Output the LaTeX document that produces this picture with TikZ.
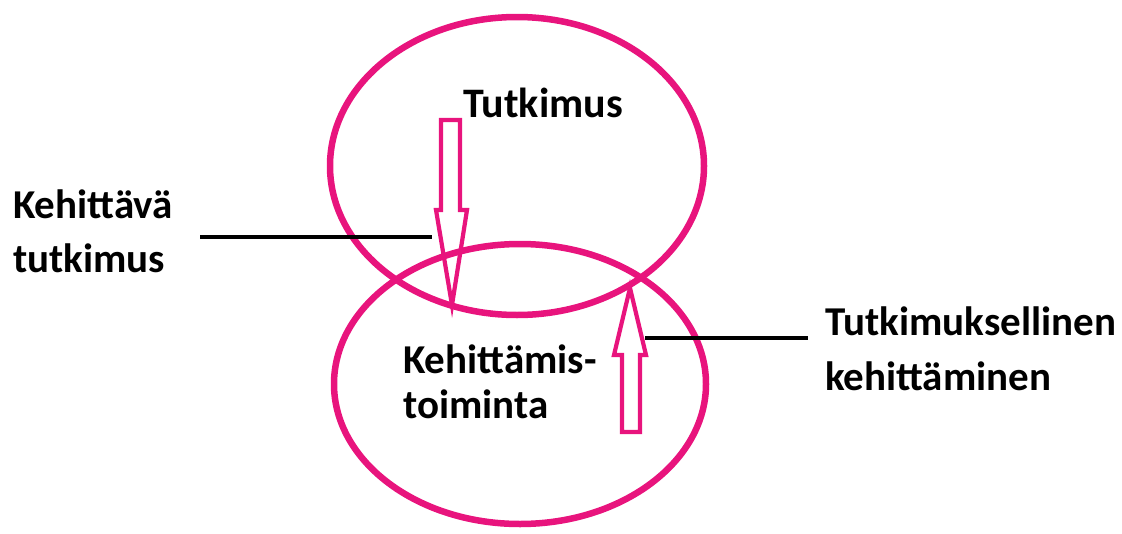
\documentclass[tikz,border=0pt]{standalone}
\usepackage{fontspec}
\setmainfont{Carlito}
\usetikzlibrary{shapes.geometric}
\definecolor{vpink}{RGB}{232,20,125}
\begin{document}
\begin{tikzpicture}[x=1pt,y=-1pt,
  ring/.style={draw=vpink,line width=6.5pt,ellipse,inner sep=0pt},
  hollowarrow/.style={draw=vpink,line width=4.2pt,line join=miter},
  leader/.style={draw=black,line width=4pt},
  lbl/.style={inner sep=0pt,anchor=base west,align=left,font=\fontsize{41}{54}\selectfont\bfseries}]
\useasboundingbox (0,0) rectangle (1122,533);
% ellipses
\node[ring,minimum width=374pt,minimum height=298pt] (tut) at (517,166) {};
\node[ring,minimum width=372pt,minimum height=280pt] (keh) at (520,384) {};
% arrows
\draw[hollowarrow] (441,120) -- (460,120) -- (460,210) -- (467,210) -- (452,305) -- (436,210) -- (441,210) -- cycle;
\draw[hollowarrow] (622,432) -- (640,432) -- (640,355) -- (646,355) -- (630,288) -- (614,355) -- (622,355) -- cycle;
% labels (base anchor = baseline of the last line)
\node[lbl,font=\fontsize{42}{54}\selectfont\bfseries] (t1) at (463,117) {Tutkimus};
\node[lbl] (t2) at (13,272) {Kehittävä\\tutkimus};
\node[lbl,font=\fontsize{41}{55}\selectfont\bfseries] (t3) at (825,390) {Tutkimuksellinen\\kehittäminen};
\node[lbl,font=\fontsize{41}{45}\selectfont\bfseries] (t4) at (403,418) {Kehittämis-\\toiminta};
% leader lines
\coordinate (l1a) at (200,237);
\coordinate (l1b) at (432,237);
\coordinate (l2a) at (645,338);
\coordinate (l2b) at (808,338);
\draw[leader] (l1a) -- (l1b);
\draw[leader] (l2a) -- (l2b);
\end{tikzpicture}
\end{document}
